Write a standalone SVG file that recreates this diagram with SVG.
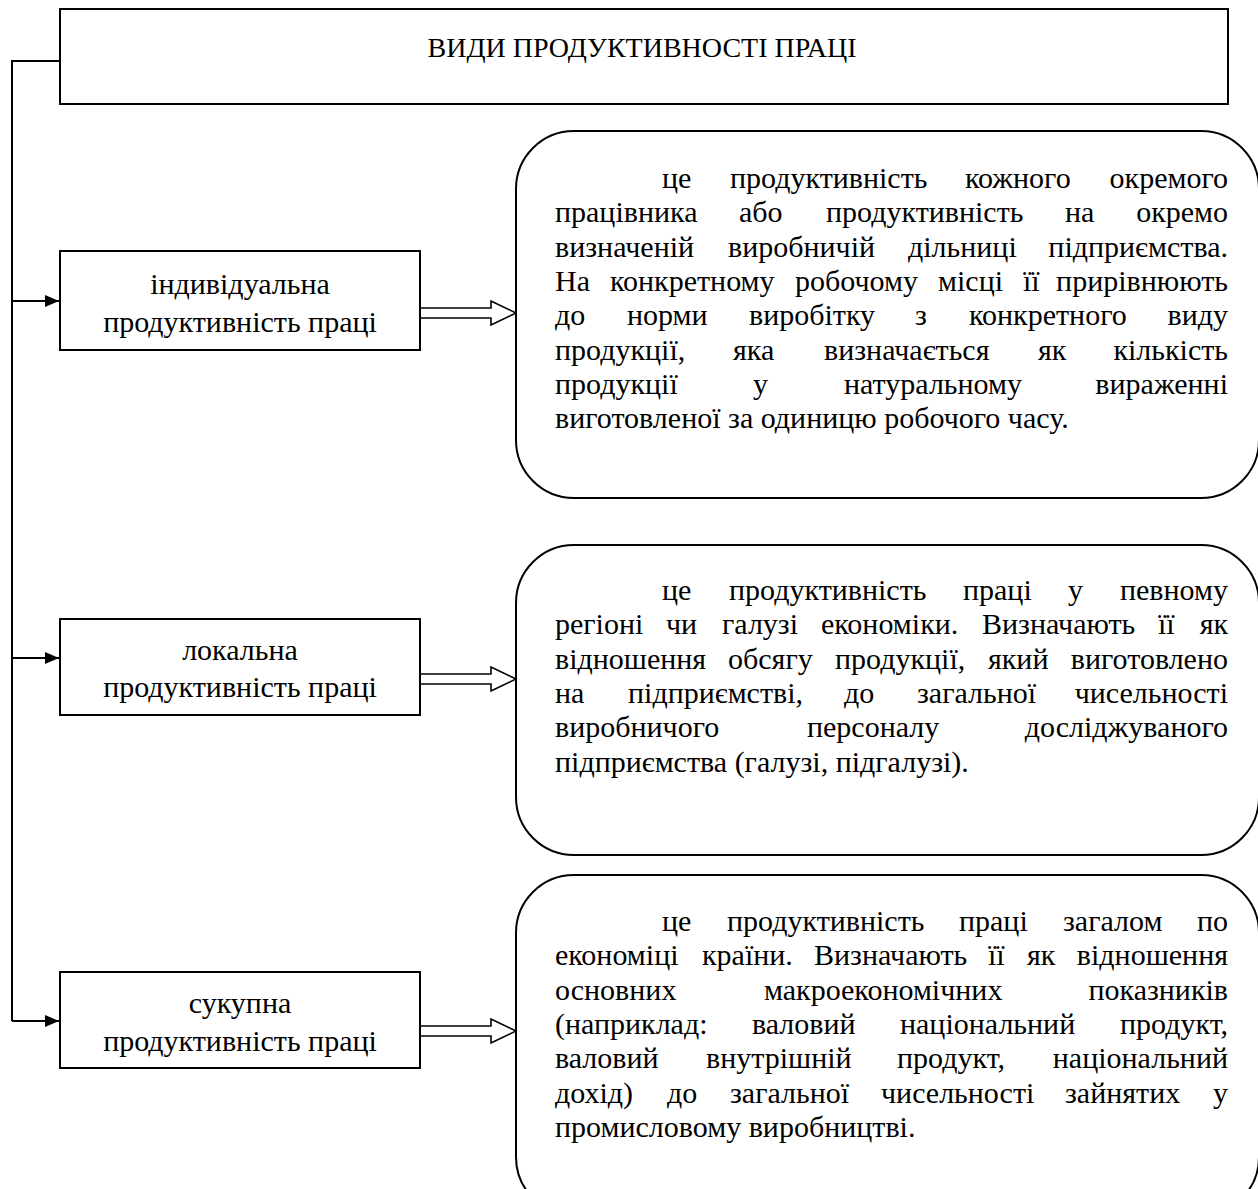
<svg xmlns="http://www.w3.org/2000/svg" width="1258" height="1189" viewBox="0 0 1258 1189">
<style>
.box{fill:#fff;stroke:#000;stroke-width:2}
.rbox{fill:#fff;stroke:#000;stroke-width:2}
.conn{fill:none;stroke:#000;stroke-width:2}
.hol{fill:#fff;stroke:#000;stroke-width:1.6}
text{font-family:"Liberation Serif","Times New Roman",serif;fill:#000}
.t{font-size:30px}
.l{font-size:30px}
.h{font-size:28px}
.m{text-anchor:middle}
.e{text-anchor:end}
</style>
<defs>
<marker id="ah" markerWidth="14" markerHeight="12" refX="14" refY="6" orient="auto" markerUnits="userSpaceOnUse">
<path d="M0,0 L14,6 L0,12 Z" fill="#000"/>
</marker>
</defs>
<g id="title">
<rect class="box" x="60" y="9" width="1168" height="95"/>
<text class="h m" x="642" y="57">ВИДИ ПРОДУКТИВНОСТІ ПРАЦІ</text>
</g>
<g id="connectors">
<path class="conn" d="M60,61 H12 V1021"/>
<line class="conn" x1="12" y1="301" x2="59" y2="301" marker-end="url(#ah)"/>
<line class="conn" x1="12" y1="658" x2="59" y2="658" marker-end="url(#ah)"/>
<line class="conn" x1="12" y1="1021" x2="59" y2="1021" marker-end="url(#ah)"/>
<path class="hol" d="M420,308 H491 V301 L516,313 L491,325 V318 H420 Z"/>
<path class="hol" d="M420,674 H491 V667 L516,679 L491,691 V684 H420 Z"/>
<path class="hol" d="M420,1026 H491 V1019 L516,1031 L491,1043 V1036 H420 Z"/>
</g>
<g id="ind">
<rect class="box" x="60" y="251" width="360" height="99"/>
<text class="l m" x="240" y="294">індивідуальна</text>
<text class="l m" x="240" y="332">продуктивність праці</text>
</g>
<g id="loc">
<rect class="box" x="60" y="619" width="360" height="96"/>
<text class="l m" x="240" y="660">локальна</text>
<text class="l m" x="240" y="697">продуктивність праці</text>
</g>
<g id="suk">
<rect class="box" x="60" y="972" width="360" height="96"/>
<text class="l m" x="240" y="1013">сукупна</text>
<text class="l m" x="240" y="1051">продуктивність праці</text>
</g>
<g id="desc1">
<rect class="rbox" x="516" y="131" width="743" height="367" rx="58" ry="58"/>
<text class="t" y="188"><tspan x="662">це</tspan><tspan x="730">продуктивність</tspan><tspan x="965">кожного</tspan><tspan class="e" x="1228">окремого</tspan></text>
<text class="t" y="222.3"><tspan x="555">працівника</tspan><tspan x="739">або</tspan><tspan x="826">продуктивність</tspan><tspan x="1065">на</tspan><tspan class="e" x="1228">окремо</tspan></text>
<text class="t" y="256.6"><tspan x="555">визначеній</tspan><tspan x="728">виробничій</tspan><tspan x="908">дільниці</tspan><tspan class="e" x="1228">підприємства.</tspan></text>
<text class="t" y="290.9"><tspan x="555">На</tspan><tspan x="610">конкретному</tspan><tspan x="795">робочому</tspan><tspan x="938">місці</tspan><tspan x="1023">її</tspan><tspan class="e" x="1228">прирівнюють</tspan></text>
<text class="t" y="325.2"><tspan x="555">до</tspan><tspan x="627">норми</tspan><tspan x="749">виробітку</tspan><tspan x="915">з</tspan><tspan x="969">конкретного</tspan><tspan class="e" x="1228">виду</tspan></text>
<text class="t" y="359.5"><tspan x="555">продукції,</tspan><tspan x="733">яка</tspan><tspan x="824">визначається</tspan><tspan x="1038">як</tspan><tspan class="e" x="1228">кількість</tspan></text>
<text class="t" y="393.8"><tspan x="555">продукції</tspan><tspan x="753">у</tspan><tspan x="844">натуральному</tspan><tspan class="e" x="1228">вираженні</tspan></text>
<text class="t" x="555" y="428.1">виготовленої за одиницю робочого часу.</text>
</g>
<g id="desc2">
<rect class="rbox" x="516" y="545" width="743" height="310" rx="58" ry="58"/>
<text class="t" y="600"><tspan x="662">це</tspan><tspan x="729">продуктивність</tspan><tspan x="963">праці</tspan><tspan x="1068">у</tspan><tspan class="e" x="1228">певному</tspan></text>
<text class="t" y="634.3"><tspan x="555">регіоні</tspan><tspan x="666">чи</tspan><tspan x="722">галузі</tspan><tspan x="821">економіки.</tspan><tspan x="982">Визначають</tspan><tspan x="1158">її</tspan><tspan class="e" x="1228">як</tspan></text>
<text class="t" y="668.6"><tspan x="555">відношення</tspan><tspan x="728">обсягу</tspan><tspan x="835">продукції,</tspan><tspan x="988">який</tspan><tspan class="e" x="1228">виготовлено</tspan></text>
<text class="t" y="702.9"><tspan x="555">на</tspan><tspan x="628">підприємстві,</tspan><tspan x="844">до</tspan><tspan x="917">загальної</tspan><tspan class="e" x="1228">чисельності</tspan></text>
<text class="t" y="737.2"><tspan x="555">виробничого</tspan><tspan x="807">персоналу</tspan><tspan class="e" x="1228">досліджуваного</tspan></text>
<text class="t" x="555" y="771.5">підприємства (галузі, підгалузі).</text>
</g>
<g id="desc3">
<rect class="rbox" x="516" y="875" width="743" height="340" rx="58" ry="58"/>
<text class="t" y="931"><tspan x="662">це</tspan><tspan x="727">продуктивність</tspan><tspan x="959">праці</tspan><tspan x="1063">загалом</tspan><tspan class="e" x="1228">по</tspan></text>
<text class="t" y="965.3"><tspan x="555">економіці</tspan><tspan x="702">країни.</tspan><tspan x="814">Визначають</tspan><tspan x="988">її</tspan><tspan x="1027">як</tspan><tspan class="e" x="1228">відношення</tspan></text>
<text class="t" y="999.6"><tspan x="555">основних</tspan><tspan x="764">макроекономічних</tspan><tspan class="e" x="1228">показників</tspan></text>
<text class="t" y="1033.9"><tspan x="555">(наприклад:</tspan><tspan x="752">валовий</tspan><tspan x="900">національний</tspan><tspan class="e" x="1228">продукт,</tspan></text>
<text class="t" y="1068.2"><tspan x="555">валовий</tspan><tspan x="706">внутрішній</tspan><tspan x="897">продукт,</tspan><tspan class="e" x="1228">національний</tspan></text>
<text class="t" y="1102.5"><tspan x="555">дохід)</tspan><tspan x="667">до</tspan><tspan x="730">загальної</tspan><tspan x="881">чисельності</tspan><tspan x="1065">зайнятих</tspan><tspan class="e" x="1228">у</tspan></text>
<text class="t" x="555" y="1136.8">промисловому виробництві.</text>
</g>
</svg>
